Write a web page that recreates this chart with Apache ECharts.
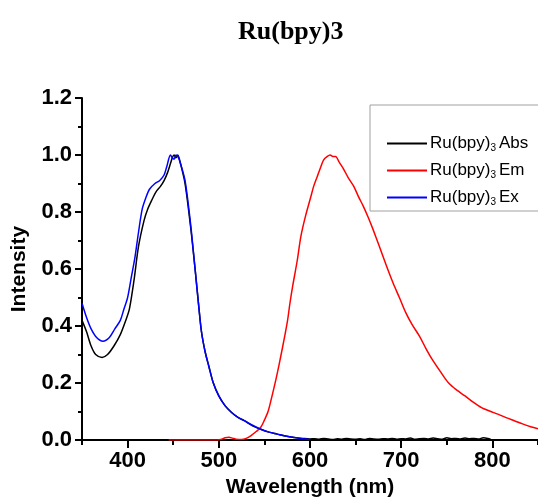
<!DOCTYPE html>
<html>
<head>
<meta charset="utf-8">
<script src="https://cdn.jsdelivr.net/npm/echarts@6/dist/echarts.min.js"></script>
<style>
html,body{margin:0;padding:0;background:#fff;}
#chart{width:538px;height:503px;}
</style>
</head>
<body>
<div id="chart"></div>
<script>
// ---- data ----
const titleText = 'Ru(bpy)3';
const seriesNames = ['Ru(bpy)3 Abs', 'Ru(bpy)3 Em', 'Ru(bpy)3 Ex'];
const xMajorTicks = [400, 500, 600, 700, 800];
const xMinorTicks = [350, 450, 550, 650, 750, 850];

const absX = [350,355,360,365,372,378,385,392,398,402,407,412,418,422,427,431,436,440,444,447,449,451,453,455,458,463,469,474,478,481,485,489,494,500,507,514,521,528,537,546,555,564,573,583,592,600,
  605,610,615,620,625,630,635,640,645,650,655,660,665,670,675,680,685,690,695,700,705,710,715,720,725,730,735,740,745,750,755,760,765,770,775,780,785,790,795,798];
const absY = [0.42,0.38,0.33,0.30,0.29,0.30,0.33,0.37,0.42,0.46,0.56,0.68,0.77,0.81,0.845,0.87,0.89,0.91,0.94,0.97,0.99,1.0,0.99,1.0,0.97,0.90,0.75,0.60,0.47,0.38,0.31,0.26,0.20,0.155,0.12,0.097,0.08,0.068,0.05,0.038,0.028,0.021,0.014,0.009,0.006,0.004,
  0.005,0.003,0.006,0.004,0.002,0.005,0.003,0.006,0.004,0.003,0.005,0.002,0.006,0.004,0.003,0.005,0.004,0.006,0.003,0.005,0.004,0.007,0.003,0.005,0.006,0.004,0.007,0.005,0.003,0.008,0.005,0.006,0.004,0.007,0.005,0.006,0.004,0.008,0.006,0.003];

const emX = [445,460,480,495,502,507,511,515,519,525,530,535,541,546,550,554,558,561,564.5,568,572,575.4,578,581,586,590,595,600.6,604,608,612,615,619,622,625,628,632,637,642,648,653,658.5,664,669,676,684,691,698,705,712,720,727,734,743,752,761,770,779,788,797,806,815,824,833,842,850];
const emY = [0,0,0,0,0.002,0.008,0.01,0.007,0.003,0.002,0.006,0.015,0.03,0.045,0.07,0.1,0.15,0.19,0.24,0.295,0.36,0.42,0.48,0.54,0.63,0.715,0.785,0.85,0.89,0.925,0.96,0.983,0.995,1.0,0.995,0.995,0.975,0.95,0.92,0.89,0.855,0.82,0.78,0.74,0.68,0.61,0.552,0.50,0.447,0.405,0.365,0.322,0.283,0.24,0.20,0.175,0.155,0.133,0.114,0.102,0.091,0.079,0.068,0.057,0.047,0.04];

const exX = [350,355,360,366,373,380,386,392,396,400,404,408,412,416,420,424,430,435,440,443,447,449,451,453,455,458,463,469,474,478,481,485,489,494,500,507,514,521,528,537,546,555,564,573,583,592,600];
const exY = [0.48,0.43,0.39,0.36,0.347,0.36,0.39,0.42,0.46,0.50,0.57,0.64,0.73,0.81,0.85,0.88,0.90,0.91,0.93,0.96,1.0,0.99,0.985,1.0,0.995,0.97,0.91,0.76,0.60,0.47,0.38,0.31,0.26,0.20,0.155,0.12,0.097,0.08,0.068,0.052,0.038,0.028,0.021,0.014,0.009,0.005,0.002];

const colors = ['#000000', '#ff0000', '#0000ff'];

function pairs(xs, ys) { return xs.map((x, i) => [x, ys[i]]); }

const chart = echarts.init(document.getElementById('chart'), null, {renderer: 'canvas'});
const lblFont = 'Liberation Sans, Arial, sans-serif';

const option = {
  animation: false,
  backgroundColor: '#ffffff',
  title: {
    text: titleText,
    left: 233, top: 14,
    textStyle: {fontFamily: 'Liberation Serif, Times New Roman, serif', fontWeight: 'bold', fontSize: 26, color: '#000'}
  },
  legend: {
    orient: 'vertical',
    left: 370, top: 105,
    padding: [29, 12, 4, 17],
    itemGap: 8,
    itemWidth: 40, itemHeight: 2,
    icon: 'rect',
    borderColor: '#a0a0a0', borderWidth: 1,
    data: seriesNames,
    formatter: function (name) {
      const parts = name.split('3 ');
      return '{a|' + parts[0] + '}{s|3}{a|' + parts[1] + '}';
    },
    textStyle: {
      fontFamily: lblFont, fontSize: 17, color: '#000', padding: [0,0,0,-2],
      rich: {
        a: {fontFamily: lblFont, fontSize: 17, color: '#000', lineHeight: 18},
        s: {fontFamily: lblFont, fontSize: 10, color: '#000', padding: [9, 3, 0, 0], lineHeight: 18}
      }
    }
  },
  grid: {left: 82, right: -6, top: 98, bottom: 62, containLabel: false},
  xAxis: [{
    type: 'value', min: 350, max: 850,
    name: 'Wavelength (nm)', nameLocation: 'middle', nameGap: 34,
    nameTextStyle: {fontFamily: lblFont, fontWeight: 'bold', fontSize: 21, color: '#000'},
    axisLine: {onZero: false, lineStyle: {color: '#000', width: 2}},
    axisTick: {show: true, customValues: xMajorTicks, length: 8, lineStyle: {color: '#000', width: 2}},
    axisLabel: {customValues: xMajorTicks, margin: 10, fontFamily: lblFont, fontWeight: 'bold', fontSize: 22, color: '#000'},
    splitLine: {show: false}
  }, {
    type: 'value', min: 350, max: 850, position: 'bottom',
    axisLine: {show: false},
    axisTick: {show: true, customValues: xMinorTicks, length: 5, lineStyle: {color: '#000', width: 2}},
    axisLabel: {show: false},
    splitLine: {show: false}
  }],
  yAxis: {
    type: 'value', min: 0, max: 1.2, interval: 0.2,
    name: 'Intensity', nameLocation: 'middle', nameGap: 52,
    nameTextStyle: {fontFamily: lblFont, fontWeight: 'bold', fontSize: 21, color: '#000'},
    axisLine: {show: true, onZero: false, lineStyle: {color: '#000', width: 2}},
    axisTick: {show: true, length: 7, lineStyle: {color: '#000', width: 2}},
    minorTick: {show: true, splitNumber: 2, length: 4, lineStyle: {color: '#000', width: 2}},
    axisLabel: {margin: 10, fontFamily: lblFont, fontWeight: 'bold', fontSize: 22, color: '#000',
      formatter: v => v.toFixed(1)},
    splitLine: {show: false}
  },
  series: [
    {name: seriesNames[0], type: 'line', xAxisIndex: 0, data: pairs(absX, absY), showSymbol: false, smooth: 0.3,
      lineStyle: {color: colors[0], width: 1.5}, itemStyle: {color: colors[0]}},
    {name: seriesNames[1], type: 'line', xAxisIndex: 0, data: pairs(emX, emY), showSymbol: false, smooth: 0.3,
      lineStyle: {color: colors[1], width: 1.5}, itemStyle: {color: colors[1]}},
    {name: seriesNames[2], type: 'line', xAxisIndex: 0, data: pairs(exX, exY), showSymbol: false, smooth: 0.3,
      lineStyle: {color: colors[2], width: 1.5}, itemStyle: {color: colors[2]}}
  ]
};
chart.setOption(option);
</script>
</body>
</html>
